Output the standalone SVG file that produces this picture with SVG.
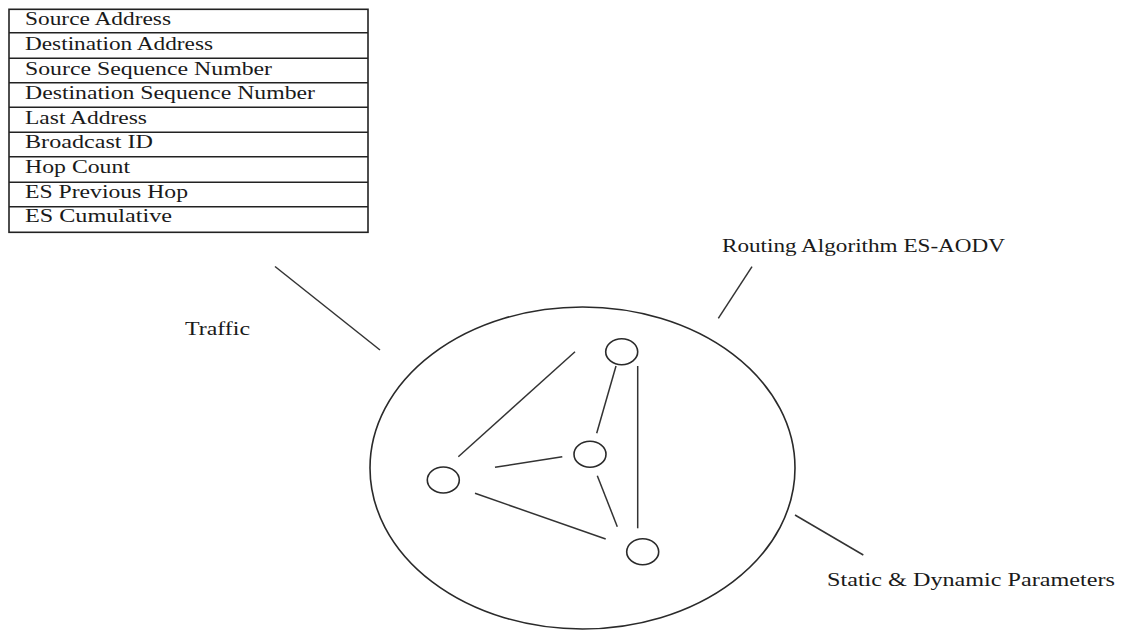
<svg xmlns="http://www.w3.org/2000/svg" width="1121" height="630" viewBox="0 0 1121 630">
<style>
  text { font-family: "Liberation Serif", "Times New Roman", serif; font-size: 18px; fill: #1a1a1a; }
  .cell { fill: #ffffff; stroke: #222; stroke-width: 1.6; }
  .rule { stroke: #222; stroke-width: 1.6; }
  .net { fill: #ffffff; stroke: #2a2a2a; stroke-width: 1.6; }
  .node { fill: #ffffff; stroke: #2a2a2a; stroke-width: 1.6; }
  .conn { stroke: #333; stroke-width: 1.5; fill: none; }
</style>
<rect width="1121" height="630" fill="#ffffff"/>

<g id="packet-table">
  <rect class="cell" x="9" y="9.3" width="359" height="223"/>
  <line class="rule" x1="9" y1="32.7" x2="368" y2="32.7"/>
  <line class="rule" x1="9" y1="58.3" x2="368" y2="58.3"/>
  <line class="rule" x1="9" y1="82.7" x2="368" y2="82.7"/>
  <line class="rule" x1="9" y1="107.3" x2="368" y2="107.3"/>
  <line class="rule" x1="9" y1="132.3" x2="368" y2="132.3"/>
  <line class="rule" x1="9" y1="156.7" x2="368" y2="156.7"/>
  <line class="rule" x1="9" y1="182.3" x2="368" y2="182.3"/>
  <line class="rule" x1="9" y1="206.7" x2="368" y2="206.7"/>
  <text x="25" y="25" textLength="146" lengthAdjust="spacingAndGlyphs">Source Address</text>
  <text x="25" y="50" textLength="188" lengthAdjust="spacingAndGlyphs">Destination Address</text>
  <text x="25" y="74.5" textLength="247" lengthAdjust="spacingAndGlyphs">Source Sequence Number</text>
  <text x="25" y="99" textLength="290" lengthAdjust="spacingAndGlyphs">Destination Sequence Number</text>
  <text x="25" y="123.5" textLength="122" lengthAdjust="spacingAndGlyphs">Last Address</text>
  <text x="25" y="148" textLength="128" lengthAdjust="spacingAndGlyphs">Broadcast ID</text>
  <text x="25" y="172.5" textLength="105" lengthAdjust="spacingAndGlyphs">Hop Count</text>
  <text x="25" y="197.5" textLength="163" lengthAdjust="spacingAndGlyphs">ES Previous Hop</text>
  <text x="25" y="222" textLength="147" lengthAdjust="spacingAndGlyphs">ES Cumulative</text>
</g>

<g id="label-traffic">
  <text x="185" y="335" textLength="65" lengthAdjust="spacingAndGlyphs">Traffic</text>
</g>
<g id="label-routing">
  <text x="722" y="252" textLength="283" lengthAdjust="spacingAndGlyphs">Routing Algorithm ES-AODV</text>
</g>
<g id="label-parameters">
  <text x="827" y="586" textLength="288" lengthAdjust="spacingAndGlyphs">Static &amp; Dynamic Parameters</text>
</g>

<g id="network">
  <ellipse class="net" cx="582.5" cy="468" rx="212.5" ry="161"/>
</g>

<g id="connectors">
  <line class="conn" x1="275" y1="266.5" x2="380" y2="350"/>
  <line class="conn" x1="752" y1="266.7" x2="718.3" y2="318.3"/>
  <line class="conn" x1="795" y1="515" x2="863.3" y2="555"/>
  <line class="conn" x1="458.3" y1="456.7" x2="575" y2="351.7"/>
  <line class="conn" x1="495" y1="467.3" x2="562.3" y2="456.7"/>
  <line class="conn" x1="475" y1="493.3" x2="605.7" y2="539"/>
  <line class="conn" x1="616" y1="366" x2="596.7" y2="433.3"/>
  <line class="conn" x1="597.3" y1="475.7" x2="617.3" y2="526.7"/>
  <line class="conn" x1="637.7" y1="366" x2="637.7" y2="528.3"/>
</g>

<g id="node-top"><ellipse class="node" cx="621.7" cy="351.7" rx="16" ry="13"/></g>
<g id="node-middle"><ellipse class="node" cx="590" cy="454.3" rx="16" ry="13"/></g>
<g id="node-left"><ellipse class="node" cx="443.3" cy="480" rx="16" ry="13"/></g>
<g id="node-bottom"><ellipse class="node" cx="642.7" cy="551.7" rx="16" ry="13"/></g>
</svg>
